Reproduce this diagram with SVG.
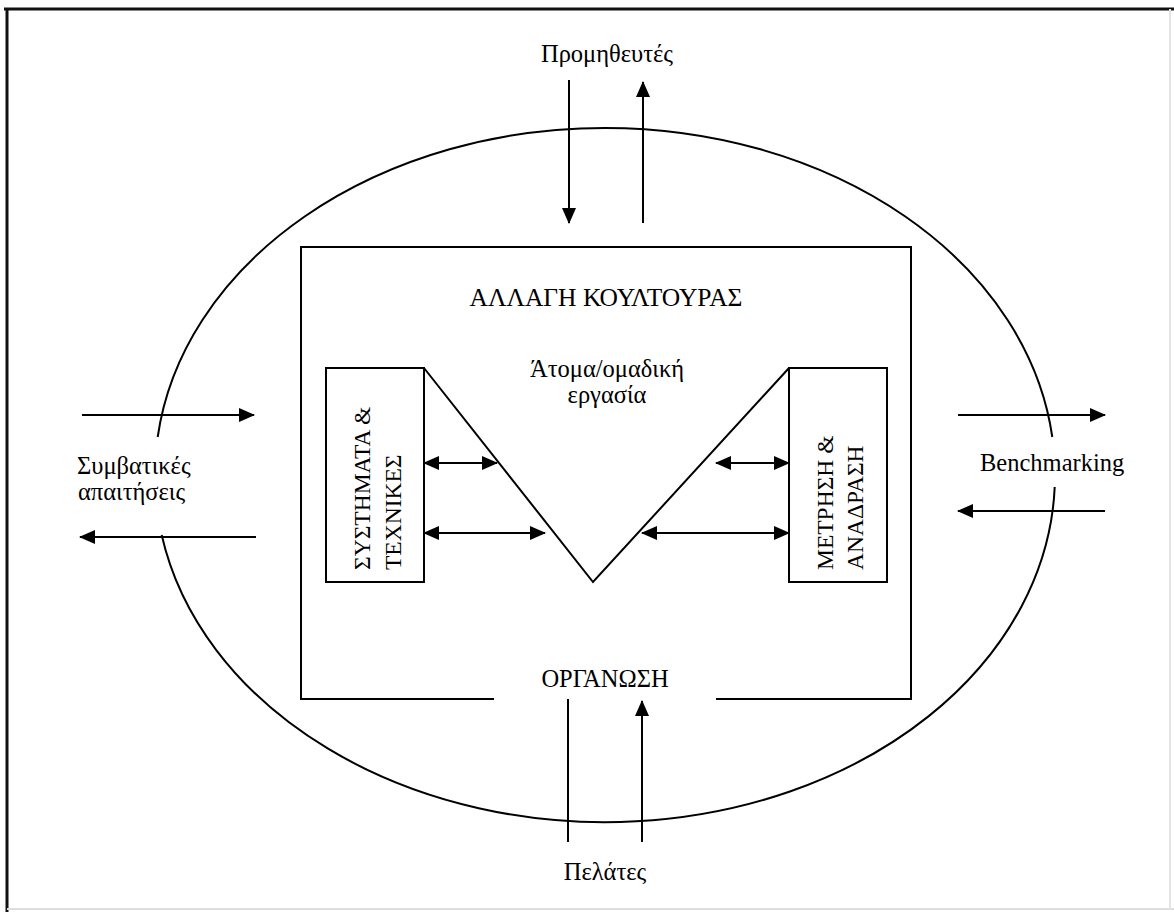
<svg xmlns="http://www.w3.org/2000/svg" width="1174" height="912" viewBox="0 0 1174 912">
<defs>
<style>
.ln{stroke:#000;stroke-width:2;fill:none}
.tx{font-family:"Liberation Serif","Times New Roman",serif;font-size:24.5px;fill:#000}
.v{font-size:23.5px}
.c{text-anchor:middle}
</style>
<marker id="ah" markerUnits="userSpaceOnUse" markerWidth="16" markerHeight="14" refX="15" refY="7" orient="auto">
<path d="M0,0 L16,7 L0,14 Z" fill="#000"/>
</marker>
<marker id="as" markerUnits="userSpaceOnUse" markerWidth="16" markerHeight="14" refX="1" refY="7" orient="auto">
<path d="M16,0 L0,7 L16,14 Z" fill="#000"/>
</marker>
</defs>
<rect width="1174" height="912" fill="#fff"/>
<g id="frame">
<line x1="4" y1="9" x2="1174" y2="9" stroke="#111" stroke-width="3"/>
<line x1="7" y1="8" x2="7" y2="912" stroke="#111" stroke-width="3"/>
<line x1="7" y1="909" x2="1174" y2="909" stroke="#ddd" stroke-width="2"/>
<line x1="1170" y1="9" x2="1170" y2="909" stroke="#e4e4e4" stroke-width="2"/>
</g>
<g id="environment">
<path class="ln" d="M161.7,535 A450,347 0 0 0 1054.7,487"/>
<path class="ln" d="M1052.3,437 A450,347 0 0 0 157.7,437"/>
</g>
<g id="organisation">
<path class="ln" d="M494,699 L301,699 L301,247 L911,247 L911,699 L716,699"/>
<text class="tx c" x="606" y="306" style="font-size:25.5px">ΑΛΛΑΓΗ ΚΟΥΛΤΟΥΡΑΣ</text>
<text class="tx c" x="605" y="687">ΟΡΓΑΝΩΣΗ</text>
</g>
<g id="teamwork">
<path class="ln" d="M424,368 L593,582 L789,368"/>
<text class="tx c" x="607" y="377">Άτομα/ομαδική</text>
<text class="tx c" x="607" y="403">εργασία</text>
</g>
<g id="systems">
<rect class="ln" x="326" y="368" width="98" height="214"/>
<text class="tx v" transform="translate(370,570) rotate(-90)">ΣΥΣΤΗΜΑΤΑ &amp;</text>
<text class="tx v" transform="translate(401,570) rotate(-90)">ΤΕΧΝΙΚΕΣ</text>
</g>
<g id="measurement">
<rect class="ln" x="789" y="368" width="98" height="214"/>
<text class="tx v" transform="translate(833,570) rotate(-90)">ΜΕΤΡΗΣΗ &amp;</text>
<text class="tx v" transform="translate(863,570) rotate(-90)">ΑΝΑΔΡΑΣΗ</text>
</g>
<g id="suppliers">
<text class="tx c" x="607" y="62">Προμηθευτές</text>
</g>
<g id="customers">
<text class="tx c" x="605" y="880">Πελάτες</text>
</g>
<g id="contract">
<text class="tx" x="77" y="474">Συμβατικές</text>
<text class="tx" x="78" y="500">απαιτήσεις</text>
</g>
<g id="benchmarking">
<text class="tx" x="980" y="471">Benchmarking</text>
</g>
<g id="connectors">
<line class="ln" x1="569" y1="80" x2="569" y2="223" marker-end="url(#ah)"/>
<line class="ln" x1="643" y1="223" x2="643" y2="82" marker-end="url(#ah)"/>
<line class="ln" x1="568" y1="699" x2="568" y2="842"/>
<line class="ln" x1="642" y1="842" x2="642" y2="701" marker-end="url(#ah)"/>
<line class="ln" x1="82" y1="415" x2="254" y2="415" marker-end="url(#ah)"/>
<line class="ln" x1="256" y1="537" x2="80" y2="537" marker-end="url(#ah)"/>
<line class="ln" x1="958" y1="415" x2="1105" y2="415" marker-end="url(#ah)"/>
<line class="ln" x1="1105" y1="511" x2="958" y2="511" marker-end="url(#ah)"/>
<line class="ln" x1="424" y1="463" x2="497" y2="463" marker-start="url(#as)" marker-end="url(#ah)"/>
<line class="ln" x1="424" y1="533" x2="545" y2="533" marker-start="url(#as)" marker-end="url(#ah)"/>
<line class="ln" x1="716" y1="463" x2="789" y2="463" marker-start="url(#as)" marker-end="url(#ah)"/>
<line class="ln" x1="642" y1="533" x2="789" y2="533" marker-start="url(#as)" marker-end="url(#ah)"/>
</g>
</svg>
